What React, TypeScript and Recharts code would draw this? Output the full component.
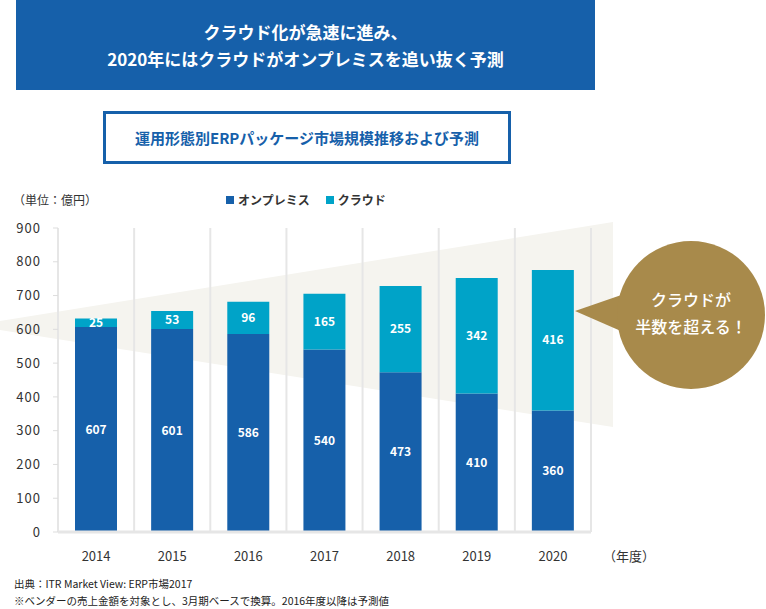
import React from 'react';
import { BarChart, Bar, XAxis, YAxis, CartesianGrid, LabelList } from 'recharts';

const years = ['2014', '2015', '2016', '2017', '2018', '2019', '2020'];
const onPremise = [607, 601, 586, 540, 473, 410, 360];
const cloud = [25, 53, 96, 165, 255, 342, 416];
const yTicks = [0, 100, 200, 300, 400, 500, 600, 700, 800, 900];

const data = years.map((year, i) => ({ year, onPremise: onPremise[i], cloud: cloud[i] }));

const FONT = '"Noto Sans CJK JP", "Noto Sans", sans-serif';
const BLUE = '#1660aa';
const CYAN = '#00a3c8';
const GOLD = '#a88a4b';

const series = [
  { key: 'onPremise', name: 'オンプレミス', color: BLUE },
  { key: 'cloud', name: 'クラウド', color: CYAN },
];

export default function App() {
  return (
    <div style={{ position: 'absolute', left: 0, top: 0, width: 766, height: 609, background: '#fff', fontFamily: FONT, overflow: 'hidden' }}>
      {/* background wedge */}
      <svg width={766} height={609} style={{ position: 'absolute', left: 0, top: 0 }}>
        <polygon points="0,321 613,222 613,427 0,330" fill="#f5f4ef" />
      </svg>

      <div style={{ position: 'absolute', left: 16, top: 0, width: 579, height: 90, background: BLUE, color: '#fff', fontWeight: 700, fontSize: 17, lineHeight: '27px', textAlign: 'center', paddingTop: 18, boxSizing: 'border-box' }}>
        クラウド化が急速に進み、<br />2020年にはクラウドがオンプレミスを追い抜く予測
      </div>
      <div style={{ position: 'absolute', left: 103, top: 111, width: 408, height: 53, border: `3px solid ${BLUE}`, boxSizing: 'border-box', color: BLUE, fontWeight: 700, fontSize: 15, display: 'flex', alignItems: 'center', justifyContent: 'center' }}>
        運用形態別ERPパッケージ市場規模推移および予測
      </div>
      <div style={{ position: 'absolute', left: 13, top: 191, fontSize: 12, color: '#333' }}>（単位：億円）</div>

      {/* legend */}
      <div style={{ position: 'absolute', left: 226, top: 191, display: 'flex', gap: 16, fontSize: 12, fontWeight: 700, color: '#333' }}>
        {series.map((s) => (
          <span key={s.key} style={{ display: 'flex', alignItems: 'center' }}>
            <span style={{ width: 8, height: 8, background: s.color, marginRight: 4 }} />
            {s.name}
          </span>
        ))}
      </div>

      <div style={{ position: 'absolute', left: 0, top: 0 }}>
        <BarChart width={766} height={570} data={data} margin={{ top: 228, right: 175, bottom: 0, left: 0 }} barCategoryGap={0}>
          <CartesianGrid
            horizontal={false}
            stroke="#e6e6e6"
            strokeWidth={2}
            verticalCoordinatesGenerator={({ offset }: any) =>
              years.map((_, i) => offset.left + ((i + 1) * offset.width) / years.length)
            }
          />
          <XAxis
            dataKey="year"
            tickLine={false}
            axisLine={{ stroke: '#e6e6e6', strokeWidth: 3 }}
            tick={{ fontSize: 13, fill: '#333', fontFamily: FONT }}
            tickMargin={14}
            height={38}
          />
          <YAxis
            type="number"
            domain={[0, 900]}
            ticks={yTicks}
            width={58}
            tickSize={5}
            tickMargin={12}
            tickLine={{ stroke: '#ddd' }}
            axisLine={{ stroke: '#e6e6e6', strokeWidth: 2 }}
            tick={{ fontSize: 13, fill: '#333', fontFamily: FONT, letterSpacing: 1 }}
          />
          {series.map((s) => (
            <Bar key={s.key} dataKey={s.key} name={s.name} stackId="a" fill={s.color} barSize={42} isAnimationActive={false}>
              <LabelList dataKey={s.key} position="center" fill="#fff" fontSize={12} fontWeight={700} fontFamily={FONT} />
            </Bar>
          ))}
        </BarChart>
      </div>

      {/* callout */}
      <svg width={766} height={609} style={{ position: 'absolute', left: 0, top: 0, pointerEvents: 'none' }}>
        <polygon points="575,311 630,292 630,335" fill={GOLD} />
        <circle cx={691} cy={315} r={74} fill={GOLD} />
        <text x={691} y={306} textAnchor="middle" fill="#fff" fontSize={16} fontFamily={FONT} fontWeight={500}>クラウドが</text>
        <text x={691} y={333} textAnchor="middle" fill="#fff" fontSize={16} fontFamily={FONT} fontWeight={500}>半数を超える！</text>
      </svg>

      <div style={{ position: 'absolute', left: 603, top: 546, fontSize: 13, color: '#333' }}>（年度）</div>
      <div style={{ position: 'absolute', left: 14, top: 575, fontSize: 10.5, color: '#222', lineHeight: '17px' }}>
        出典：ITR Market View: ERP市場2017<br />※ベンダーの売上金額を対象とし、3月期ベースで換算。2016年度以降は予測値
      </div>
    </div>
  );
}
